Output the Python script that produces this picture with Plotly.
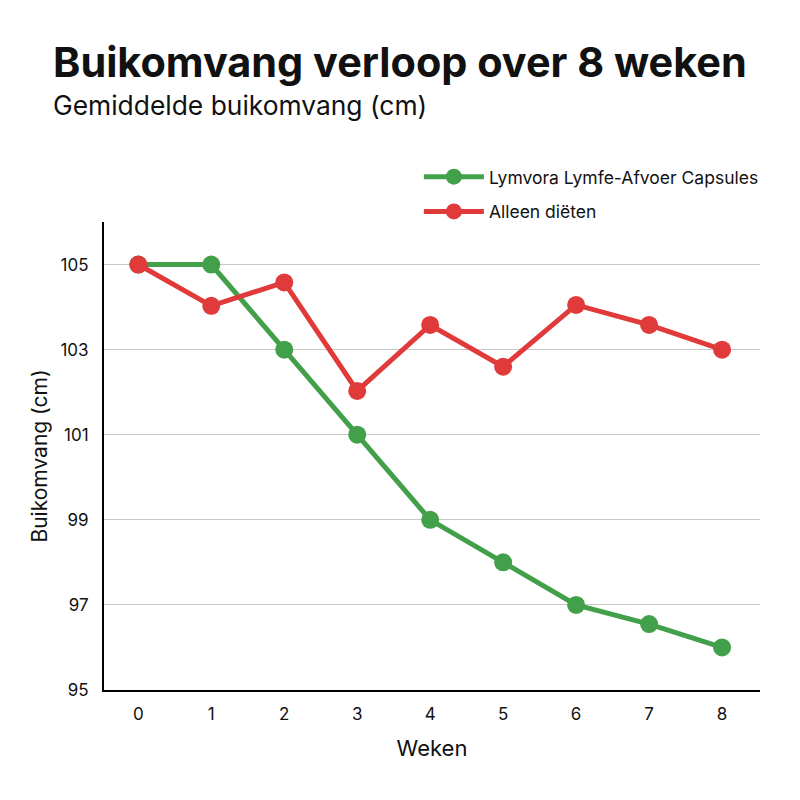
import plotly.graph_objects as go

weeks = [0, 1, 2, 3, 4, 5, 6, 7, 8]
lymvora = [105, 105, 103, 101, 99, 98, 97, 96.55, 96]
dieet = [105, 104.03, 104.58, 102.03, 103.58, 102.6, 104.05, 103.58, 103]
y_ticks = [95, 97, 99, 101, 103, 105]

GREEN = "#43a04a"
RED = "#e03a3a"
FONT = "Inter"

fig = go.Figure()
fig.add_trace(go.Scatter(x=weeks, y=lymvora, mode="lines+markers",
                         name="Lymvora Lymfe-Afvoer Capsules", legendgroup="a",
                         line=dict(color=GREEN, width=5),
                         marker=dict(size=18, color=GREEN)))
fig.add_trace(go.Scatter(x=weeks, y=dieet, mode="lines+markers",
                         name="Alleen diëten", legendgroup="b",
                         line=dict(color=RED, width=5),
                         marker=dict(size=18, color=RED)))

fig.update_layout(
    width=800, height=800,
    paper_bgcolor="white", plot_bgcolor="white",
    margin=dict(l=104, r=40, t=222, b=110),
    font=dict(family=FONT, color="#111"),
    showlegend=True,
    legend=dict(x=0.48, y=1.135, xanchor="left", yanchor="top",
                font=dict(size=17.5, family=FONT, color="#111"),
                itemwidth=60, tracegroupgap=9, bgcolor="rgba(0,0,0,0)"),
    annotations=[
        dict(text="<b>Buikomvang verloop over 8 weken</b>", xref="paper", yref="paper",
             x=-0.081, y=1.342, xanchor="left", yanchor="middle", showarrow=False,
             font=dict(size=41.4, family=FONT, color="#111")),
        dict(text="Gemiddelde buikomvang (cm)", xref="paper", yref="paper",
             x=-0.081, y=1.25, xanchor="left", yanchor="middle", showarrow=False,
             font=dict(size=26.4, family=FONT, color="#111")),
    ],
)
fig.update_xaxes(range=[-0.47, 8.52], tickvals=weeks, ticktext=[str(w) for w in weeks],
                 showgrid=False, showline=True, linecolor="black", linewidth=2,
                 ticks="", tickfont=dict(size=17, color="#111"), ticklabelstandoff=8,
                 title=dict(text="Weken", font=dict(size=22, color="#111"), standoff=17),
                 zeroline=False)
fig.update_yaxes(range=[95, 106], tickvals=y_ticks, ticktext=[str(v) for v in y_ticks],
                 showgrid=True, gridcolor="#c8c8c8", gridwidth=1,
                 showline=True, linecolor="black", linewidth=2,
                 ticks="", tickfont=dict(size=17, color="#111"), ticklabelstandoff=10,
                 title=dict(text="Buikomvang (cm)", font=dict(size=21, color="#111"), standoff=7),
                 zeroline=False)

fig.write_html("out.html")
